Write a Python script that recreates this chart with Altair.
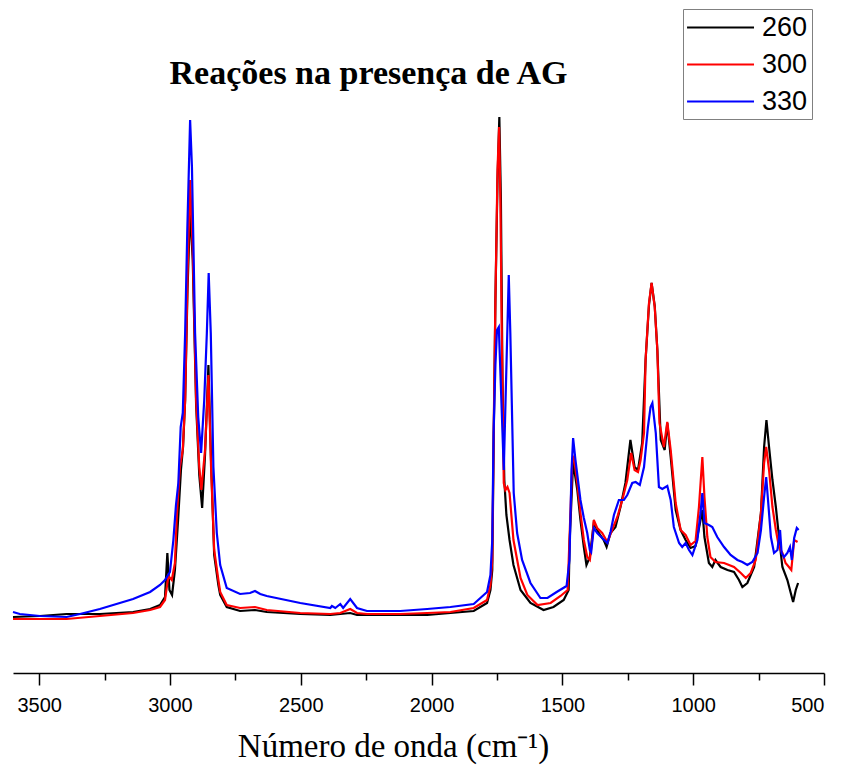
import altair as alt
import pandas as pd

series = ["260", "300", "330"]
colors = ["#000000", "#ff0000", "#0000ff"]
major_ticks = [3500, 3000, 2500, 2000, 1500, 1000, 500]
minor_ticks = [3250, 2750, 2250, 1750, 1250, 750]

wn_260 = [3600, 3497, 3395, 3268, 3141, 3076, 3038, 3019, 3010, 3002, 2992, 2981, 2969, 2958, 2950, 2942, 2933, 2923, 2913, 2900, 2888, 2877, 2866, 2853, 2843, 2831, 2815, 2808, 2783, 2732, 2675, 2630, 2502, 2387, 2311, 2285, 2247, 2120, 2017, 1928, 1839, 1788, 1775, 1768, 1763, 1756, 1748, 1741, 1735, 1729, 1722, 1714, 1702, 1687, 1660, 1622, 1572, 1534, 1495, 1476, 1472, 1459, 1443, 1431, 1418, 1408, 1395, 1380, 1361, 1342, 1331, 1316, 1297, 1278, 1259, 1240, 1224, 1211, 1195, 1182, 1169, 1159, 1147, 1137, 1124, 1109, 1099, 1086, 1067, 1048, 1029, 1010, 991, 972, 965, 957, 940, 927, 915, 895, 869, 844, 825, 812, 793, 767, 741, 729, 720, 710, 697, 684, 672, 659, 640, 627, 618, 608, 599]
a_260 = [56, 57, 59, 59, 61, 64, 68, 76, 120, 83, 78, 103, 153, 203, 226, 273, 383, 463, 413, 268, 198, 165, 218, 308, 213, 118, 88, 78, 66, 62, 63, 61, 59, 58, 60, 58, 58, 58, 58, 60, 62, 70, 83, 103, 223, 373, 493, 556, 473, 293, 193, 158, 133, 108, 83, 70, 63, 66, 73, 83, 133, 211, 183, 153, 126, 108, 116, 150, 140, 133, 126, 140, 146, 166, 190, 233, 206, 203, 230, 313, 368, 390, 367, 323, 233, 223, 250, 216, 163, 143, 133, 125, 127, 153, 163, 136, 110, 106, 113, 106, 103, 101, 93, 86, 90, 106, 160, 226, 253, 226, 193, 166, 136, 106, 93, 80, 71, 83, 90]

wn_300 = [3600, 3497, 3395, 3268, 3141, 3076, 3038, 3019, 3006, 2993, 2981, 2974, 2962, 2951, 2942, 2932, 2923, 2913, 2900, 2888, 2880, 2866, 2853, 2843, 2831, 2815, 2808, 2783, 2732, 2675, 2630, 2502, 2387, 2349, 2311, 2285, 2247, 2120, 2017, 1928, 1839, 1788, 1775, 1768, 1763, 1756, 1748, 1742, 1737, 1731, 1724, 1718, 1710, 1702, 1687, 1660, 1634, 1595, 1545, 1507, 1480, 1472, 1462, 1456, 1443, 1431, 1418, 1405, 1395, 1386, 1380, 1367, 1348, 1328, 1310, 1290, 1271, 1252, 1237, 1224, 1211, 1201, 1188, 1182, 1169, 1159, 1147, 1137, 1129, 1112, 1099, 1086, 1067, 1048, 1029, 1010, 991, 978, 965, 957, 946, 934, 915, 882, 844, 818, 799, 780, 761, 741, 729, 721, 710, 697, 684, 672, 659, 647, 634, 625, 614, 601]
a_300 = [54, 54, 54, 57, 60, 63, 66, 73, 97, 93, 110, 156, 206, 223, 273, 406, 493, 423, 273, 206, 183, 223, 298, 206, 123, 93, 81, 68, 65, 66, 63, 60, 59, 60, 64, 60, 59, 59, 60, 61, 65, 73, 88, 113, 233, 373, 503, 546, 473, 323, 190, 183, 186, 180, 133, 95, 78, 68, 70, 77, 83, 140, 213, 216, 190, 160, 133, 116, 113, 133, 153, 145, 140, 131, 143, 156, 173, 193, 220, 203, 201, 213, 240, 313, 370, 390, 366, 323, 250, 226, 251, 223, 170, 143, 138, 128, 132, 166, 216, 176, 136, 116, 111, 110, 106, 100, 95, 100, 113, 160, 210, 226, 203, 166, 143, 126, 120, 110, 106, 103, 133, 131]

wn_330 = [3600, 3574, 3497, 3395, 3344, 3268, 3141, 3076, 3038, 3019, 3000, 2987, 2977, 2968, 2959, 2951, 2942, 2934, 2923, 2916, 2904, 2892, 2881, 2869, 2859, 2852, 2844, 2834, 2821, 2808, 2783, 2732, 2694, 2675, 2655, 2630, 2502, 2387, 2381, 2368, 2349, 2338, 2311, 2285, 2247, 2120, 2017, 1928, 1839, 1788, 1775, 1768, 1763, 1756, 1750, 1743, 1724, 1705, 1699, 1686, 1673, 1654, 1622, 1584, 1557, 1522, 1484, 1473, 1465, 1459, 1450, 1431, 1418, 1405, 1395, 1390, 1380, 1367, 1348, 1328, 1316, 1303, 1284, 1265, 1252, 1233, 1220, 1204, 1188, 1173, 1163, 1156, 1143, 1131, 1118, 1099, 1086, 1074, 1054, 1042, 1029, 1016, 1003, 984, 972, 965, 957, 940, 927, 908, 882, 857, 831, 812, 793, 774, 754, 741, 729, 721, 714, 703, 691, 678, 668, 662, 653, 640, 630, 623, 614, 604, 597]
a_330 = [61, 59, 57, 56, 59, 64, 74, 81, 88, 93, 101, 133, 168, 190, 246, 260, 340, 440, 553, 506, 340, 256, 220, 273, 340, 400, 340, 206, 140, 108, 85, 79, 80, 82, 79, 77, 70, 65, 67, 65, 69, 65, 74, 65, 62, 62, 64, 66, 69, 81, 98, 133, 240, 308, 343, 346, 203, 398, 340, 180, 140, 113, 90, 75, 75, 81, 87, 113, 203, 235, 213, 173, 155, 140, 123, 121, 145, 140, 135, 130, 141, 158, 173, 173, 178, 190, 191, 188, 206, 246, 266, 270, 240, 186, 184, 187, 173, 146, 130, 126, 130, 123, 118, 133, 160, 180, 150, 148, 146, 136, 126, 118, 113, 111, 108, 111, 120, 143, 176, 196, 173, 136, 120, 123, 143, 120, 116, 120, 126, 113, 135, 145, 143]

rows = []
for name, wns, vals in zip(series, [wn_260, wn_300, wn_330], [a_260, a_300, a_330]):
    for w, v in zip(wns, vals):
        rows.append({"wn": w, "absorb": v, "amostra": name})
df = pd.DataFrame(rows)

x_scale = alt.Scale(domain=[500, 3600], reverse=True, nice=False, zero=False)
y_scale = alt.Scale(domain=[0, 573], nice=False, zero=False)

lines = alt.Chart(df).mark_line(strokeWidth=2.2).encode(
    x=alt.X(
        "wn:Q",
        scale=x_scale,
        axis=alt.Axis(
            values=major_ticks, orient="bottom", format="d",
            tickSize=12, tickWidth=1.5, tickColor="black",
            domainColor="black", domainWidth=1.5, grid=False,
            labelFont="Liberation Sans", labelFontSize=20, labelColor="black",
            labelPadding=10,
            title="Número de onda (cm⁻¹)", titleFont="Liberation Serif",
            titleFontSize=33, titleFontWeight="normal", titleColor="black",
            titlePadding=15, titleX=380,
        ),
    ),
    y=alt.Y("absorb:Q", scale=y_scale, axis=None),
    color=alt.Color(
        "amostra:N",
        scale=alt.Scale(domain=series, range=colors),
        legend=alt.Legend(
            title=None, orient="none", legendX=670, legendY=-91,
            symbolType="M-1.07,0H3.89", symbolSize=729, symbolStrokeWidth=2,
            labelFont="Liberation Sans", labelFontSize=27, labelColor="black",
            labelOffset=46, padding=4, rowPadding=9, strokeColor="#808080",
        ),
    ),
)

minor = alt.Chart(df).mark_line(opacity=0).encode(
    x=alt.X(
        "wn:Q",
        scale=x_scale,
        axis=alt.Axis(
            values=minor_ticks, orient="bottom", tickSize=7, tickWidth=1.5,
            tickColor="black", labels=False, domain=False, grid=False, title=None,
        ),
    ),
    y=alt.Y("absorb:Q", scale=y_scale, axis=None),
)

chart = alt.layer(lines, minor).resolve_axis(x="independent").properties(
    width=811,
    height=573,
    autosize=alt.AutoSizeParams(type="none"),
    padding={"left": 5, "top": 92, "right": 10, "bottom": 95},
    title=alt.Title(
        "Reações na presença de AG", font="Liberation Serif", fontSize=34,
        fontWeight="bold", color="black", anchor="middle", frame="group",
        dx=-50, offset=-82,
    ),
).configure_view(stroke=None)

chart.save("out.html", embed_options={"renderer": "svg", "actions": False})
